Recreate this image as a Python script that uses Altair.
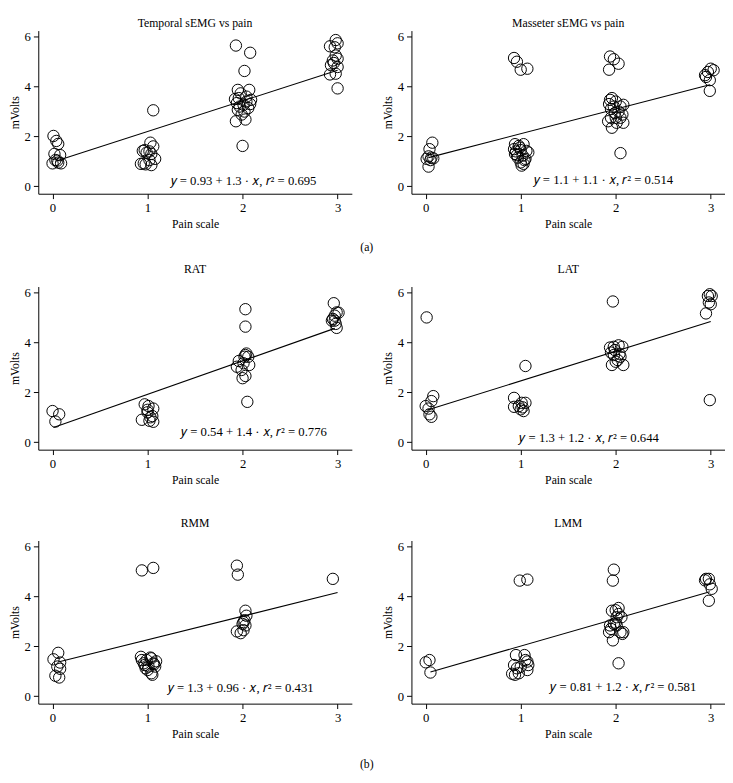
import altair as alt
import pandas as pd

# ---------------- data ----------------
TITLES = ["Temporal sEMG vs pain", "Masseter sEMG vs pain", "RAT", "LAT", "RMM", "LMM"]

EQUATIONS = [
    "𝑦 = 0.93 + 1.3 · 𝑥, 𝑟² = 0.695",
    "𝑦 = 1.1 + 1.1 · 𝑥, 𝑟² = 0.514",
    "𝑦 = 0.54 + 1.4 · 𝑥, 𝑟² = 0.776",
    "𝑦 = 1.3 + 1.2 · 𝑥, 𝑟² = 0.644",
    "𝑦 = 1.3 + 0.96 · 𝑥, 𝑟² = 0.431",
    "𝑦 = 0.81 + 1.2 · 𝑥, 𝑟² = 0.581",
]
# anchor of each equation label (data units)
EQ_X = [2.01, 1.87, 2.12, 1.72, 1.98, 2.08]
EQ_Y = [0.20, 0.24, 0.40, 0.16, 0.33, 0.36]

# fitted line end points (data units) as drawn
LINE_X = [[0.03, 3.00], [0.03, 2.99], [0.01, 2.97], [0.01, 3.00], [0.07, 3.00], [0.05, 2.99]]
LINE_Y = [[1.00, 4.66], [1.15, 4.08], [0.59, 4.57], [1.28, 4.85], [1.38, 4.16], [0.97, 4.19]]

TEMPORAL_X = [0.01, 0.04, 0.06, 0.02, 0.08, 0.00, 0.05, 0.09, 0.06, 0.03,
              1.06, 1.03, 1.06, 0.97, 1.02, 0.99, 1.04, 0.95, 1.08, 1.02, 0.93, 0.98, 1.04, 0.96,
              1.93, 2.08, 2.02, 2.00, 1.93, 2.03, 1.95, 1.98, 2.07, 2.04, 1.96, 2.09, 1.92, 2.01,
              2.06, 1.95, 2.08, 1.99, 1.94, 2.04, 2.02, 1.97,
              2.98, 3.00, 2.97, 2.92, 2.98, 3.00, 2.95, 2.93, 3.00, 2.98, 2.92, 3.00, 2.96]
TEMPORAL_Y = [2.02, 1.82, 1.70, 1.30, 1.25, 0.92, 1.03, 0.92, 0.95, 1.05,
              3.05, 1.75, 1.60, 1.45, 1.40, 1.35, 1.30, 1.42, 1.10, 1.05, 0.90, 0.88, 0.85, 0.92,
              5.65, 5.36, 4.63, 1.62, 2.61, 2.68, 3.87, 3.73, 3.87, 3.60, 3.54, 3.47, 3.50, 3.27,
              3.14, 3.07, 3.30, 2.88, 3.34, 3.40, 3.00, 3.20,
              5.87, 5.74, 5.58, 5.62, 5.25, 5.12, 5.05, 4.86, 4.79, 4.52, 4.49, 3.93, 4.95]

MASSETER_X = [0.07, 0.04, 0.03, 0.06, 0.01, 0.03, 0.08, 0.05,
              0.93, 0.96, 1.00, 1.07,
              0.94, 0.98, 1.03, 0.93, 1.00, 1.08, 0.95, 1.02, 0.97, 1.05, 1.00, 1.03, 1.01,
              0.94, 0.99, 1.06, 0.96, 1.04,
              1.94, 1.98, 2.03, 1.93, 2.05,
              1.94, 1.96, 2.00, 2.05, 2.08, 1.95, 1.99, 2.07, 1.92, 1.96, 2.01, 2.08, 2.05,
              1.95, 2.00, 2.03, 1.98, 1.93,
              3.00, 2.97, 2.95, 2.99, 2.94, 3.03, 2.99]
MASSETER_Y = [1.75, 1.49, 1.20, 1.15, 1.10, 0.79, 1.12, 1.05,
              5.15, 5.00, 4.68, 4.72,
              1.69, 1.62, 1.69, 1.49, 1.45, 1.36, 1.40, 1.23, 1.15, 1.10, 0.96, 0.90, 0.83,
              1.30, 1.55, 1.42, 1.25, 1.05,
              5.21, 5.10, 4.92, 4.68, 1.33,
              3.47, 3.54, 3.40, 3.20, 3.27, 3.10, 2.94, 2.88, 2.61, 2.35, 2.55, 2.55, 2.75,
              2.75, 2.75, 3.00, 3.20, 3.30,
              4.72, 4.59, 4.39, 4.26, 4.46, 4.66, 3.83]

RAT_X = [0.00, 0.07, 0.03,
         0.97, 1.01, 1.06, 0.94, 1.00, 1.05, 1.02, 1.06, 1.00, 1.03,
         2.03, 2.03, 2.05, 2.00, 2.03, 1.94, 1.96, 2.04, 2.02, 2.07, 1.99, 2.03, 2.06, 2.01,
         2.96, 2.99, 2.95, 2.97, 2.98, 2.99, 2.94, 2.97, 3.01]
RAT_Y = [1.25, 1.12, 0.83,
         1.52, 1.45, 1.35, 0.90, 1.20, 1.05, 0.86, 0.82, 1.30, 1.00,
         5.34, 4.64, 1.62, 2.57, 2.66, 3.03, 3.26, 3.56, 3.43, 3.10, 2.90, 3.50, 3.43, 3.17,
         5.58, 5.21, 4.95, 4.88, 4.75, 4.59, 4.88, 5.08, 5.20]

LAT_X = [0.01, 0.00, 0.03, 0.08, 0.06, 0.04, 0.06,
         0.93, 0.93, 1.05, 1.01, 1.05, 1.00, 1.03, 0.98, 1.02,
         1.97, 1.98, 2.03, 2.07, 1.99, 1.94, 2.05, 1.98, 1.96, 2.08, 2.00, 2.02, 1.95, 2.04,
         2.97, 2.99, 3.01, 2.98, 3.00, 2.95, 2.99]
LAT_Y = [5.01, 1.45, 1.35, 1.85, 1.65, 1.12, 1.02,
         1.78, 1.42, 3.06, 1.58, 1.58, 1.32, 1.25, 1.45, 1.40,
         5.65, 3.83, 3.89, 3.83, 3.70, 3.80, 3.43, 3.50, 3.10, 3.10, 3.23, 3.30, 3.60, 3.55,
         5.87, 5.94, 5.87, 5.61, 5.54, 5.17, 1.69]

RMM_X = [0.06, 0.01, 0.08, 0.03, 0.07, 0.08, 0.05,
         0.94, 1.06, 0.93, 0.99, 1.04, 1.06, 1.09, 0.96, 1.01, 0.98, 1.08, 0.94, 1.04, 1.05,
         1.00, 1.03, 0.97, 1.07,
         1.94, 1.95, 2.03, 2.04, 2.01, 2.00, 2.03, 1.94, 1.98, 2.01, 2.02,
         2.95]
RMM_Y = [1.74, 1.48, 1.35, 0.82, 0.75, 1.10, 1.19,
         5.05, 5.15, 1.58, 1.45, 1.52, 1.32, 1.40, 1.32, 1.19, 1.12, 1.19, 1.45, 0.92, 0.86,
         1.05, 1.55, 1.25, 1.28,
         5.24, 4.88, 3.43, 3.23, 2.97, 2.90, 2.84, 2.60, 2.53, 2.65, 3.05,
         4.71]

LMM_X = [0.00, 0.04, 0.05,
         0.99, 1.07, 0.95, 1.04, 0.93, 0.96, 0.94, 0.98, 1.07, 1.08, 1.07, 1.05, 0.91, 1.00,
         1.98, 1.97, 2.03, 1.96, 2.00, 2.03, 2.06, 2.01, 1.94, 1.98, 2.01, 1.93, 2.05, 2.08,
         1.97, 2.00, 2.03, 1.95, 2.07,
         2.95, 2.98, 2.99, 3.01, 2.98, 2.94]
LMM_Y = [1.36, 1.45, 0.95,
         4.64, 4.68, 1.65, 1.65, 1.25, 1.12, 0.86, 0.92, 1.39, 1.25, 1.05, 1.45, 0.90, 1.18,
         5.08, 4.64, 1.32, 3.43, 3.45, 3.54, 3.17, 3.17, 2.84, 2.90, 2.84, 2.57, 2.57, 2.57,
         2.24, 2.95, 3.30, 2.70, 2.50,
         4.71, 4.71, 4.49, 4.31, 3.83, 4.65]

POINTS = [(TEMPORAL_X, TEMPORAL_Y), (MASSETER_X, MASSETER_Y), (RAT_X, RAT_Y),
          (LAT_X, LAT_Y), (RMM_X, RMM_Y), (LMM_X, LMM_Y)]

# ---------------- chart ----------------
FONT = "Liberation Serif"
W, H = 321, 167

xscale = alt.Scale(domain=[-0.15, 3.15], nice=False, zero=False)
yscale = alt.Scale(domain=[-0.3, 6.25], nice=False, zero=False)


def panel(i, title_offset):
    xs, ys = POINTS[i]
    pts = pd.DataFrame({"x": xs, "y": ys})
    ln = pd.DataFrame({"x": LINE_X[i], "y": LINE_Y[i]})
    eq = pd.DataFrame({"x": [EQ_X[i]], "y": [EQ_Y[i]], "t": [EQUATIONS[i]]})

    xenc = alt.X("x:Q", scale=xscale,
                 axis=alt.Axis(values=[0, 1, 2, 3], title="Pain scale", format="d"))
    yenc = alt.Y("y:Q", scale=yscale,
                 axis=alt.Axis(values=[0, 2, 4, 6], title="mVolts", format="d"))

    p = alt.Chart(pts).mark_point(shape="circle", filled=False, size=135,
                                  stroke="black", strokeWidth=1, opacity=1).encode(x=xenc, y=yenc)
    l = alt.Chart(ln).mark_line(color="black", strokeWidth=1.1).encode(x="x:Q", y="y:Q")
    t = alt.Chart(eq).mark_text(font=FONT, fontSize=13, color="black", align="center",
                                baseline="middle").encode(x="x:Q", y="y:Q", text="t:N")
    return alt.layer(p, l, t).properties(
        width=W, height=H,
        title=alt.Title(TITLES[i], font=FONT, fontSize=12, fontWeight="normal",
                        color="black", offset=title_offset),
    )


def label(txt, off):
    return alt.Title(txt, orient="bottom", anchor="middle", font=FONT, fontSize=12,
                     fontWeight="normal", color="black", offset=off)


row1 = alt.hconcat(panel(0, 1), panel(1, 1), spacing=30).properties(title=label("(a)", 13))
row2 = alt.hconcat(panel(2, 11), panel(3, 11), spacing=30)
row3 = alt.hconcat(panel(4, 11), panel(5, 11), spacing=30).properties(title=label("(b)", 20))

lower = alt.vconcat(row2, row3, spacing=32)

chart = alt.vconcat(row1, lower, spacing=10).properties(
    padding=0
).configure_view(stroke=None).configure_axis(
    grid=False, domainColor="black", domainWidth=1, tickColor="black", tickWidth=1,
    tickSize=5, labelFont=FONT, labelFontSize=13, labelColor="black",
    titleFont=FONT, titleFontSize=12, titleFontWeight="normal", titleColor="black",
    labelPadding=3,
).configure_axisX(titlePadding=5).configure_axisY(labelAngle=0, titlePadding=3)

chart.save("out.html", embed_options={"renderer": "svg", "actions": False})
